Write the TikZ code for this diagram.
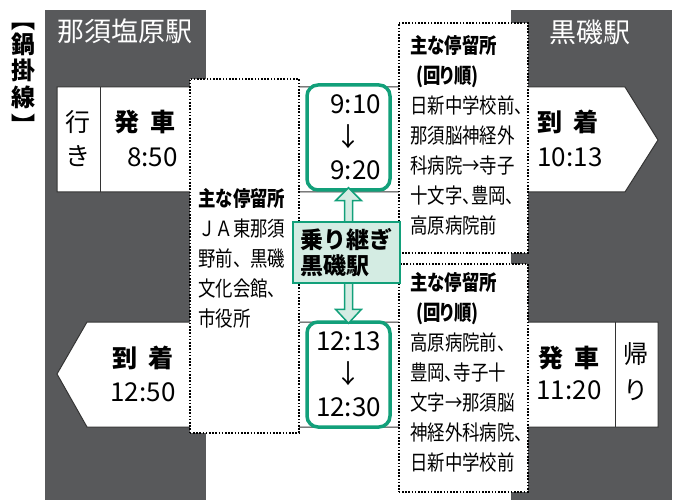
\documentclass[tikz,border=0pt]{standalone}
\usepackage{fontspec}
\setmainfont{Noto Sans CJK JP}
\newfontfamily\condfont{Noto Sans CJK JP}[FakeStretch=0.83,RawFeature=+palt]
\newfontfamily\condwide{Noto Sans CJK JP}[FakeStretch=0.83]
\usetikzlibrary{calc}
\definecolor{panelgray}{RGB}{88,89,91}
\definecolor{transgreen}{RGB}{18,160,122}
\definecolor{transfill}{RGB}{212,236,227}

\begin{document}
\begin{tikzpicture}[
  x=1pt, y=-1pt,
  panel/.style={fill=panelgray, inner sep=0pt, anchor=north west},
  band/.style={draw=black!80, line width=1pt, fill=white},
  stops/.style={draw, line width=1.6pt, dash pattern=on 1.6pt off 1.6pt,
    fill=white, inner sep=0pt, anchor=north west},
  stoptext/.style={anchor=north west, inner sep=0pt, align=left,
    font=\condfont\fontsize{21}{30}\selectfont},
  station/.style={text=white, inner sep=0pt, font=\fontsize{27}{27}\selectfont},
  label/.style={inner sep=0pt, font=\bfseries\fontsize{25}{25}\selectfont},
  clock/.style={inner sep=0pt, font=\fontsize{26}{26}\selectfont},
  tbox/.style={draw=transgreen, line width=3.5pt, rounded corners=11pt,
    fill=white, minimum width=83, minimum height=105, align=center,
    font=\fontsize{26}{33}\selectfont},
  tarrow/.style={draw=transgreen, line width=1.5pt, fill=transfill, line join=miter}
]
\useasboundingbox (0,0) rectangle (681,500);

% station panels
\node[panel, minimum width=161, minimum height=490] (nasu) at (45,10) {};
\node[panel, minimum width=161, minimum height=490] (kuro) at (511,10) {};
\node[station] (nasuname) at (125,31) {那須塩原駅};
\node[station] (kuroname) at (590,32) {黒磯駅};

\foreach \ch/\yy [count=\i] in {︻/27, 鍋/44, 掛/70, 線/97, ︼/124}
  \node[inner sep=0pt, font=\bfseries\fontsize{24}{24}\selectfont] (title\i) at (23,\yy) {\ch};

% outward and return bands
\draw[band] (57,87) -- (625,87) -- (658,140) -- (625,192) -- (57,192) -- cycle;
\draw[band] (100,87) -- (100,192);
\draw[band] (87,322) -- (658,322) -- (658,427) -- (87,427) -- (57,374) -- cycle;
\draw[band] (615,322) -- (615,427);

\node[inner sep=0pt, align=center, font=\fontsize{25}{34}\selectfont] (iki) at (78,139) {行\\き};
\node[label, anchor=east] (hatsu1) at (176,122) {発\hspace{0.45em}車};
\node[clock, anchor=east] (t850) at (178,157) {8:50};
\node[label] (chaku1) at (568,122) {到\hspace{0.45em}着};
\node[clock] (t1013) at (570,157) {10:13};

\node[label] (chaku2) at (143,358) {到\hspace{0.45em}着};
\node[clock] (t1250) at (143,392) {12:50};
\node[label] (hatsu2) at (569,358) {発\hspace{0.45em}車};
\node[clock] (t1120) at (569,390) {11:20};
\node[inner sep=0pt, align=center, font=\fontsize{25}{36}\selectfont] (kaeri) at (636,372) {帰\\り};

% main stops
\node[stops, minimum width=109, minimum height=354] (stopsgo) at (189,78) {};
\node[stoptext, font=\condwide\fontsize{21}{30}\selectfont] (stopsgotext)
  at ($(stopsgo.north west)+(9,110)$)
  {\textbf{主な停留所}\\ＪＡ東那須\\野前、黒磯\\文化会館、\\市役所};
\node[stops, minimum width=129, minimum height=230] (loopout) at (398,22) {};
\node[stoptext] (loopouttext) at ($(loopout.north west)+(12,13)$)
  {\textbf{主な停留所}\\\hspace{6pt}\textbf{(回り順)}\\日新中学校前、\\那須脳神経外\\科病院→寺子\\十文字、豊岡、\\高原病院前};
\node[stops, minimum width=129, minimum height=228] (loopback) at (398,263) {};
\node[stoptext] (loopbacktext) at ($(loopback.north west)+(12,9)$)
  {\textbf{主な停留所}\\\hspace{6pt}\textbf{(回り順)}\\高原病院前、\\豊岡、寺子十\\文字→那須脳\\神経外科病院、\\日新中学校前};

% transfer at Kuroiso
\node[tbox] (ride1) at (348.5,137.5) {\phantom{1}9:10\\↓\\\phantom{1}9:20};
\node[tbox] (ride2) at (348.5,374.5) {12:13\\↓\\12:30};
\coordinate (tipup) at ($(ride1.south)+(0,-4)$);
\coordinate (tipdown) at ($(ride2.north)+(0,3)$);
\draw[tarrow] (tipup) -- ++(13,13) -- ($(tipup)+(4,13)$) -- ($(tipdown)+(4,-14)$)
  -- ($(tipdown)+(13,-14)$) -- (tipdown) -- ($(tipdown)+(-13,-14)$)
  -- ($(tipdown)+(-4,-14)$) -- ($(tipup)+(-4,13)$) -- ($(tipup)+(-13,13)$) -- cycle;
\node[draw=transgreen, line width=2pt, fill=transfill, minimum width=107,
  minimum height=61, align=left, inner sep=0pt,
  font=\bfseries\fontsize{23}{26}\selectfont] (transfer) at (346.5,252.5) {乗り継ぎ\\黒磯駅};

\end{tikzpicture}
\end{document}
